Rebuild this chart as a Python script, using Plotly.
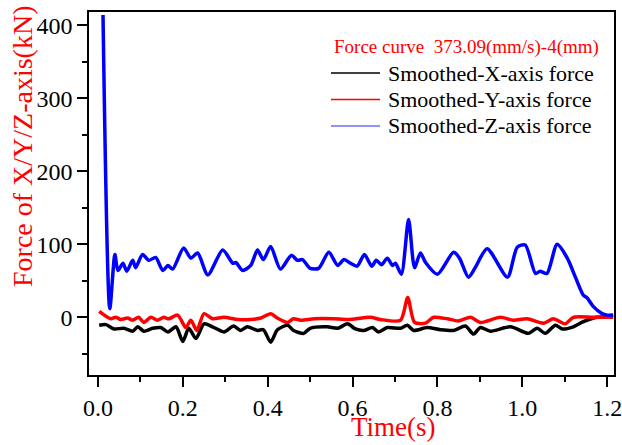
import plotly.graph_objects as go

# Smoothed-X-axis force (black)
tx = [0.003, 0.019, 0.038, 0.061, 0.082, 0.094, 0.108, 0.129, 0.148, 0.165, 0.184, 0.200, 0.214, 0.231, 0.250,
      0.270, 0.297, 0.320, 0.336, 0.352, 0.376, 0.390, 0.407, 0.423, 0.447, 0.461, 0.485, 0.500, 0.540, 0.565,
      0.588, 0.607, 0.626, 0.647, 0.661, 0.682, 0.713, 0.729, 0.744, 0.776, 0.807, 0.838, 0.866, 0.885, 0.901,
      0.925, 0.972, 1.014, 1.035, 1.054, 1.078, 1.094, 1.120, 1.144, 1.176, 1.214]
fx = [-11, -10, -16, -15, -19, -13, -19, -15, -14, -20, -13, -33, -15, -29, -9,
      -13, -20, -12, -18, -13, -18, -17, -34, -17, -11, -18, -22, -15, -13, -15,
      -9, -16, -18, -14, -20, -14, -15, -11, -18, -14, -17, -18, -12, -23, -14,
      -19, -13, -22, -15, -22, -11, -16, -13, -6, 0, 0]

# Smoothed-Y-axis force (red)
ty = [0.003, 0.030, 0.042, 0.054, 0.070, 0.082, 0.096, 0.108, 0.125, 0.140, 0.155, 0.167, 0.188, 0.207, 0.219,
      0.233, 0.250, 0.270, 0.297, 0.330, 0.360, 0.384, 0.407, 0.423, 0.447, 0.461, 0.478, 0.510, 0.555, 0.590,
      0.642, 0.666, 0.713, 0.730, 0.746, 0.772, 0.791, 0.823, 0.849, 0.878, 0.901, 0.948, 0.979, 1.011, 1.050,
      1.073, 1.101, 1.120, 1.167, 1.214]
fy = [8, -2, 0, -3, -1, -4, 0, -7, 0, -4, 0, -2, 3, -14, -4,
      -18, 5, -2, 0, -3, -3, -1, 5, -1, -7, -2, -4, -2, -2, -3,
      0, -3, -4, 27, -7, -8, 0, -2, -5, 0, -7, 0, -4, -2, -8,
      -2, -9, 0, 0, 0]

# Smoothed-Z-axis force (blue)
tz = [0.012, 0.028, 0.040, 0.047, 0.059, 0.068, 0.082, 0.089, 0.105, 0.120, 0.136, 0.153, 0.165, 0.176, 0.202,
      0.219, 0.235, 0.259, 0.294, 0.318, 0.325, 0.341, 0.360, 0.376, 0.390, 0.407, 0.430, 0.456, 0.470, 0.482,
      0.500, 0.520, 0.544, 0.565, 0.580, 0.595, 0.611, 0.628, 0.645, 0.656, 0.668, 0.682, 0.694, 0.701, 0.715,
      0.732, 0.746, 0.760, 0.772, 0.800, 0.838, 0.852, 0.873, 0.889, 0.917, 0.965, 0.988, 1.007, 1.031, 1.042,
      1.058, 1.082, 1.106, 1.125, 1.144, 1.152, 1.167, 1.188, 1.200, 1.214]
fz = [414, 12, 86, 64, 74, 63, 78, 68, 86, 78, 82, 64, 71, 66, 95,
      81, 88, 58, 92, 74, 75, 64, 71, 92, 79, 97, 66, 85, 78, 79,
      67, 67, 89, 71, 79, 74, 70, 86, 70, 78, 72, 81, 71, 74, 59,
      134, 68, 88, 75, 59, 89, 81, 55, 68, 94, 55, 96, 99, 60, 63,
      60, 100, 81, 55, 30, 27, 15, 5, 3, 3]

xticks = [0.0, 0.2, 0.4, 0.6, 0.8, 1.0, 1.2]
xticklabels = ["0.0", "0.2", "0.4", "0.6", "0.8", "1.0", "1.2"]
yticks = [0, 100, 200, 300, 400]

series_names = ["Smoothed-X-axis force", "Smoothed-Y-axis force", "Smoothed-Z-axis force"]
series_colors = ["black", "#ff0000", "#0000ff"]
legend_sample_colors = ["black", "#ff0000", "#6e6eff"]
legend_title = "Force curve\u00a0\u00a0373.09(mm/s)-4(mm)"

SERIF = "Liberation Serif, Times New Roman, serif"

W, H = 622, 445
L, R, T, B = 89, 8, 12, 70
PW, PH = W - L - R, H - T - B


def px2paper(xp, yp):
    return (xp - L) / PW, (H - B - yp) / PH


fig = go.Figure()
for t, f, name, col in zip([tx, ty, tz], [fx, fy, fz], series_names, series_colors):
    fig.add_trace(go.Scatter(x=t, y=f, mode="lines", name=name, showlegend=False,
                             line=dict(color=col, width=3.5, shape="spline", smoothing=0.7)))

axis_common = dict(showline=True, mirror=True, linecolor="black", linewidth=1.5,
                   ticks="outside", ticklen=10, tickwidth=1.5, tickcolor="black",
                   showgrid=False, zeroline=False, automargin=False,
                   ticklabeloverflow="allow",
                   tickfont=dict(family=SERIF, size=24, color="black"))

fig.update_xaxes(range=[-0.021, 1.216], tickvals=xticks, ticktext=xticklabels,
                 minor=dict(dtick=0.1, tick0=0, ticks="outside", ticklen=5, tickwidth=1.5, tickcolor="black"),
                 **axis_common)
fig.update_yaxes(range=[-79, 418], tickvals=yticks,
                 minor=dict(dtick=50, tick0=0, ticks="outside", ticklen=5, tickwidth=1.5, tickcolor="black"),
                 **axis_common)

annotations = []
shapes = []
# legend (title + entries)
tx0, ty0 = px2paper(332, 47)
annotations.append(dict(text=legend_title, xref="paper", yref="paper", x=tx0, y=ty0,
                        xanchor="left", yanchor="middle", showarrow=False,
                        font=dict(family=SERIF, size=19, color="#ff0000")))
for i, (name, col) in enumerate(zip(series_names, legend_sample_colors)):
    yp = 73 + i * 26.5
    x0, y0 = px2paper(331, yp)
    x1, _ = px2paper(380, yp)
    shapes.append(dict(type="line", xref="paper", yref="paper", x0=x0, x1=x1, y0=y0, y1=y0,
                       line=dict(color=col, width=1.5)))
    xt, _ = px2paper(386, yp)
    annotations.append(dict(text=name, xref="paper", yref="paper", x=xt, y=y0,
                            xanchor="left", yanchor="middle", showarrow=False,
                            font=dict(family=SERIF, size=22, color="black")))

# axis titles
xa, ya = px2paper(393, 444)
annotations.append(dict(text="Time(s)", xref="paper", yref="paper", x=xa, y=ya,
                        xanchor="center", yanchor="bottom", showarrow=False,
                        font=dict(family=SERIF, size=27, color="#ff0000")))
xa, ya = px2paper(22, 147)
annotations.append(dict(text="Force of X/Y/Z-axis(kN)", xref="paper", yref="paper", x=xa, y=ya,
                        xanchor="center", yanchor="middle", textangle=-90, showarrow=False,
                        font=dict(family=SERIF, size=28, color="#ff0000")))

fig.update_layout(
    width=W, height=H,
    margin=dict(l=L, r=R, t=T, b=B),
    plot_bgcolor="white", paper_bgcolor="white",
    font=dict(family=SERIF),
    showlegend=False,
    annotations=annotations,
    shapes=shapes,
)

fig.write_html("out.html")
